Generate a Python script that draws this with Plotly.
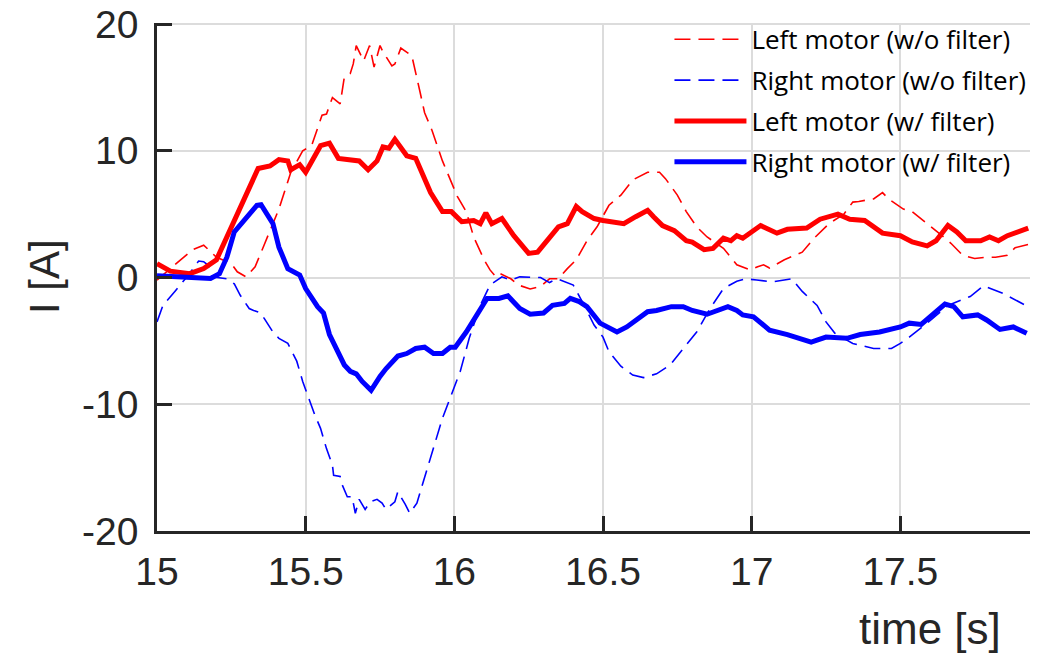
import plotly.graph_objects as go

# ---- data ----
t_left_raw = [15.0, 15.12, 15.157, 15.20, 15.25, 15.27, 15.30, 15.33, 15.36, 15.41, 15.45, 15.49, 15.52, 15.54,
              15.555, 15.57, 15.59, 15.616, 15.63, 15.65, 15.66, 15.67, 15.695, 15.715, 15.73, 15.75, 15.76, 15.79,
              15.80, 15.82, 15.857, 15.885, 15.90, 15.925, 15.96, 16.01, 16.04, 16.065, 16.10, 16.12, 16.14, 16.155,
              16.19, 16.216, 16.255, 16.29, 16.32, 16.35, 16.38, 16.41, 16.446, 16.48, 16.52, 16.56, 16.60, 16.65,
              16.69, 16.71, 16.75, 16.78, 16.815, 16.85, 16.905, 16.95, 16.995, 17.02, 17.04, 17.06, 17.11, 17.17,
              17.21, 17.26, 17.31, 17.34, 17.36, 17.41, 17.44, 17.46, 17.51, 17.54, 17.57, 17.61, 17.64, 17.67,
              17.71, 17.75, 17.79, 17.82, 17.86, 17.886, 17.93]
i_left_raw = [-0.2, 2.2, 2.55, 1.6, 1.1, 0.45, 0.05, 0.85, 2.55, 5.4, 8.3, 10.0, 10.4, 11.7,
              12.8, 12.9, 14.2, 13.7, 15.8, 16.1, 16.85, 18.3, 17.1, 18.3, 16.6, 18.3, 17.8, 16.7,
              16.85, 18.1, 17.5, 14.6, 13.0, 11.6, 9.2, 6.4, 5.2, 3.2, 1.4, 0.6, 0.05, 0.3,
              -0.1, -0.6, -0.9, -0.7, -0.1, -0.1, 0.7, 1.4, 2.9, 4.0, 5.7, 6.5, 7.7, 8.3,
              8.3, 7.8, 6.5, 5.2, 4.0, 3.2, 2.3, 1.0, 0.6, 0.85, 1.0, 0.75, 1.4, 2.0,
              3.1, 4.25, 5.0, 5.95, 6.0, 6.2, 6.7, 6.2, 5.4, 5.2, 4.65, 3.85, 3.3, 2.7,
              1.75, 1.5, 1.6, 1.6, 1.75, 2.35, 2.6]

t_right_raw = [15.0, 15.02, 15.06, 15.09, 15.106, 15.14, 15.157, 15.17, 15.185, 15.235, 15.26, 15.28, 15.31,
               15.325, 15.35, 15.36, 15.39, 15.41, 15.44, 15.47, 15.49, 15.53, 15.55, 15.57, 15.59, 15.594,
               15.616, 15.62, 15.64, 15.656, 15.667, 15.68, 15.70, 15.717, 15.74, 15.757, 15.77, 15.80, 15.81,
               15.835, 15.85, 15.874, 15.896, 15.93, 15.96, 15.986, 16.02, 16.05, 16.087, 16.12, 16.16, 16.19,
               16.22, 16.29, 16.32, 16.345, 16.40, 16.43, 16.47, 16.50, 16.52, 16.56, 16.60, 16.636, 16.68,
               16.726, 16.77, 16.815, 16.86, 16.905, 16.95, 16.98, 17.017, 17.07, 17.135, 17.17, 17.22, 17.25,
               17.28, 17.34, 17.41, 17.47, 17.50, 17.53, 17.59, 17.66, 17.735, 17.78, 17.845, 17.89, 17.93]
i_right_raw = [-3.5, -2.2, -1.1, -0.3, 0.2, 1.3, 1.25, 1.0, 0.05, -0.1, -0.5, -1.4, -2.45,
               -2.6, -2.8, -3.2, -4.3, -4.8, -5.2, -6.6, -8.2, -10.8, -11.9, -13.5, -14.8, -15.6,
               -15.7, -16.2, -17.3, -17.3, -18.6, -17.5, -18.3, -17.7, -17.5, -17.8, -18.3, -17.7, -16.9,
               -17.9, -18.6, -17.8, -16.1, -13.5, -11.1, -9.5, -7.4, -4.8, -2.2, -0.6, 0.05, -0.2,
               0.05, 0.0, -0.4, -0.1, -0.6, -1.9, -3.75, -4.7, -5.85, -7.0, -7.7, -7.9, -7.6,
               -6.9, -5.6, -4.3, -2.45, -0.87, -0.3, -0.1, -0.2, -0.35, -0.1, -1.1, -2.2, -3.5,
               -4.4, -5.2, -5.6, -5.6, -5.2, -4.7, -3.6, -2.2, -1.5, -0.65, -1.25, -1.8, -2.3]

t_left_filt = [15.0, 15.045, 15.11, 15.157, 15.2, 15.27, 15.34, 15.38, 15.41, 15.44, 15.45, 15.48, 15.50, 15.55,
               15.58, 15.61, 15.68, 15.71, 15.74, 15.76, 15.78, 15.80, 15.84, 15.87, 15.92, 15.96, 15.99, 16.025,
               16.065, 16.087, 16.106, 16.126, 16.16, 16.20, 16.25, 16.28, 16.31, 16.35, 16.38, 16.41, 16.43,
               16.47, 16.50, 16.57, 16.61, 16.65, 16.67, 16.70, 16.74, 16.78, 16.80, 16.84, 16.87, 16.905, 16.93,
               16.95, 16.97, 17.006, 17.03, 17.085, 17.12, 17.185, 17.23, 17.29, 17.33, 17.38, 17.44, 17.50,
               17.54, 17.59, 17.62, 17.66, 17.69, 17.72, 17.77, 17.80, 17.83, 17.86, 17.90, 17.93]
i_left_filt = [1.1, 0.5, 0.3, 0.7, 1.4, 4.9, 8.6, 8.8, 9.3, 9.2, 8.5, 8.9, 8.3, 10.4,
               10.6, 9.4, 9.2, 8.5, 9.2, 10.3, 10.2, 10.9, 9.6, 9.4, 6.7, 5.2, 5.2, 4.4,
               4.5, 4.25, 5.1, 4.25, 4.65, 3.3, 1.9, 2.0, 2.8, 4.0, 4.25, 5.6, 5.2,
               4.65, 4.5, 4.25, 4.8, 5.3, 4.8, 4.1, 3.7, 2.9, 2.8, 2.2, 2.3, 3.1, 2.9,
               3.3, 3.1, 3.7, 4.1, 3.5, 3.8, 3.9, 4.6, 5.0, 4.6, 4.5, 3.5, 3.3,
               2.8, 2.5, 2.9, 4.1, 3.6, 2.9, 2.9, 3.2, 2.9, 3.3, 3.65, 3.9]

t_right_filt = [15.0, 15.09, 15.18, 15.21, 15.235, 15.26, 15.30, 15.336, 15.35, 15.39, 15.41, 15.44, 15.48, 15.50,
                15.54, 15.56, 15.58, 15.63, 15.65, 15.67, 15.69, 15.72, 15.75, 15.77, 15.81, 15.84, 15.87, 15.90,
                15.93, 15.96, 15.986, 16.003, 16.04, 16.07, 16.11, 16.15, 16.18, 16.22, 16.255, 16.30, 16.33,
                16.37, 16.39, 16.42, 16.446, 16.49, 16.52, 16.547, 16.58, 16.61, 16.65, 16.68, 16.73, 16.77,
                16.80, 16.85, 16.88, 16.92, 16.95, 16.97, 17.006, 17.06, 17.12, 17.20, 17.25, 17.32, 17.365,
                17.43, 17.50, 17.53, 17.57, 17.61, 17.65, 17.68, 17.71, 17.76, 17.79, 17.835, 17.88, 17.925]
i_right_filt = [0.13, 0.0, -0.07, 0.3, 1.6, 3.6, 4.65, 5.7, 5.75, 4.25, 2.4, 0.7, 0.2, -0.87,
                -2.3, -2.8, -4.5, -6.9, -7.4, -7.6, -8.2, -8.9, -7.8, -7.2, -6.2, -6.0, -5.6, -5.5,
                -6.0, -6.0, -5.5, -5.5, -4.3, -3.1, -1.65, -1.65, -1.45, -2.45, -2.9, -2.8, -2.2,
                -2.05, -1.65, -1.9, -2.3, -3.6, -4.0, -4.3, -3.9, -3.35, -2.7, -2.6, -2.3, -2.3,
                -2.6, -2.9, -2.6, -2.3, -2.6, -2.95, -3.1, -4.15, -4.5, -5.1, -4.7, -4.8, -4.5,
                -4.3, -3.9, -3.6, -3.7, -2.95, -2.1, -2.3, -3.1, -2.95, -3.35, -4.1, -3.9, -4.4]

names = ["Left motor (w/o filter)", "Right motor (w/o filter)",
         "Left motor (w/ filter)", "Right motor (w/ filter)"]

x_ticks = [15, 15.5, 16, 16.5, 17, 17.5]
x_tick_labels = ["15", "15.5", "16", "16.5", "17", "17.5"]
y_ticks = [-20, -10, 0, 10, 20]
y_tick_labels = ["-20", "-10", "0", "10", "20"]

RED = "#ff0000"
BLUE = "#0000ff"
DASH = "16px,8px"

fig = go.Figure()
fig.add_trace(go.Scatter(x=t_left_raw, y=i_left_raw, mode="lines", name=names[0], legendgroup="a",
                         line=dict(color=RED, width=1.6, dash=DASH)))
fig.add_trace(go.Scatter(x=t_right_raw, y=i_right_raw, mode="lines", name=names[1], legendgroup="b",
                         line=dict(color=BLUE, width=1.6, dash=DASH)))
fig.add_trace(go.Scatter(x=t_left_filt, y=i_left_filt, mode="lines", name=names[2], legendgroup="c",
                         line=dict(color=RED, width=5)))
fig.add_trace(go.Scatter(x=t_right_filt, y=i_right_filt, mode="lines", name=names[3], legendgroup="d",
                         line=dict(color=BLUE, width=5)))

axis_common = dict(
    showline=True, linecolor="#262626", linewidth=2.5,
    ticks="inside", ticklen=15, tickwidth=2.5, tickcolor="#262626",
    showgrid=True, gridcolor="#dcdcdc", gridwidth=2,
    zeroline=False, mirror=False, automargin=False,
    ticklabeloverflow="allow",
    tickfont=dict(family="Liberation Sans, Arial", size=39, color="#262626"),
)

fig.update_xaxes(range=[15, 17.936], tickvals=x_ticks, ticktext=x_tick_labels,
                 ticklabelstandoff=4, **axis_common)
fig.update_yaxes(range=[-20, 20.08], tickvals=y_ticks, ticktext=y_tick_labels,
                 ticklabelstandoff=8, **axis_common)

# page body adds an 8px offset, so the figure is made 8px smaller and margins shifted
fig.update_layout(
    width=1047, height=646,
    margin=dict(l=149, r=25, t=15, b=123, autoexpand=False),
    plot_bgcolor="white", paper_bgcolor="white",
    showlegend=True,
    legend=dict(x=0.587, y=1.014, xanchor="left", yanchor="top",
                bgcolor="rgba(0,0,0,0)", borderwidth=0,
                font=dict(family="Open Sans, Lato, sans-serif", size=26, color="#000000"),
                tracegroupgap=4, itemwidth=72),
    annotations=[
        dict(text="time [s]", xref="paper", yref="paper", x=(930 - 157) / 873, y=0,
             xanchor="center", yanchor="middle", yshift=-97, showarrow=False,
             font=dict(family="Liberation Sans, Arial", size=44, color="#262626")),
        dict(text="I [A]", xref="paper", yref="paper", x=0, y=0.5, xanchor="center", yanchor="middle",
             xshift=-113, textangle=-90, showarrow=False,
             font=dict(family="Liberation Sans, Arial", size=42, color="#262626")),
    ],
)

fig.write_html("out.html")
